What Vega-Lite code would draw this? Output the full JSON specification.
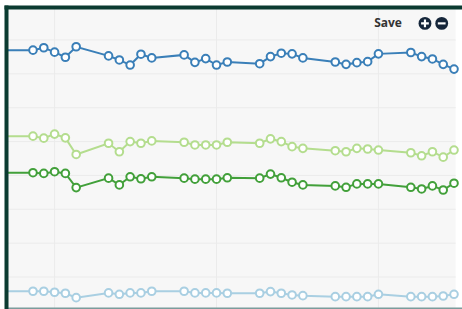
{
  "$schema": "https://vega.github.io/schema/vega-lite/v6.json",
  "width": 456,
  "height": 301,
  "autosize": {"type": "none"},
  "padding": {"left": 6, "top": 7, "right": 0, "bottom": 1},
  "background": "white",
  "config": {"view": {"stroke": null}},
  "datasets": {
    "series": [
      {"s":"S1","d":-3,"v":77.0},{"s":"S1","d":0,"v":77.0},{"s":"S1","d":1,"v":77.7},{"s":"S1","d":2,"v":76.4},{"s":"S1","d":3,"v":74.9},{"s":"S1","d":4,"v":78.0},
      {"s":"S1","d":7,"v":75.3},{"s":"S1","d":8,"v":74.1},{"s":"S1","d":9,"v":72.6},{"s":"S1","d":10,"v":75.8},{"s":"S1","d":11,"v":74.7},
      {"s":"S1","d":14,"v":75.6},{"s":"S1","d":15,"v":73.4},{"s":"S1","d":16,"v":74.5},{"s":"S1","d":17,"v":72.6},{"s":"S1","d":18,"v":73.5},
      {"s":"S1","d":21,"v":73.0},{"s":"S1","d":22,"v":75.1},{"s":"S1","d":23,"v":76.1},{"s":"S1","d":24,"v":75.9},{"s":"S1","d":25,"v":74.7},
      {"s":"S1","d":28,"v":73.5},{"s":"S1","d":29,"v":72.8},{"s":"S1","d":30,"v":73.3},{"s":"S1","d":31,"v":73.6},{"s":"S1","d":32,"v":75.9},
      {"s":"S1","d":35,"v":76.3},{"s":"S1","d":36,"v":75.1},{"s":"S1","d":37,"v":74.4},{"s":"S1","d":38,"v":72.8},{"s":"S1","d":39,"v":71.4},

      {"s":"S2","d":-3,"v":51.6},{"s":"S2","d":0,"v":51.6},{"s":"S2","d":1,"v":51.0},{"s":"S2","d":2,"v":52.2},{"s":"S2","d":3,"v":51.1},{"s":"S2","d":4,"v":46.2},
      {"s":"S2","d":7,"v":49.5},{"s":"S2","d":8,"v":47.0},{"s":"S2","d":9,"v":50.0},{"s":"S2","d":10,"v":49.5},{"s":"S2","d":11,"v":50.2},
      {"s":"S2","d":14,"v":49.8},{"s":"S2","d":15,"v":49.0},{"s":"S2","d":16,"v":49.0},{"s":"S2","d":17,"v":49.0},{"s":"S2","d":18,"v":49.8},
      {"s":"S2","d":21,"v":49.5},{"s":"S2","d":22,"v":50.8},{"s":"S2","d":23,"v":50.0},{"s":"S2","d":24,"v":48.5},{"s":"S2","d":25,"v":48.0},
      {"s":"S2","d":28,"v":47.3},{"s":"S2","d":29,"v":47.0},{"s":"S2","d":30,"v":48.0},{"s":"S2","d":31,"v":47.8},{"s":"S2","d":32,"v":47.5},
      {"s":"S2","d":35,"v":46.7},{"s":"S2","d":36,"v":45.8},{"s":"S2","d":37,"v":47.0},{"s":"S2","d":38,"v":45.4},{"s":"S2","d":39,"v":47.5},

      {"s":"S3","d":-3,"v":40.8},{"s":"S3","d":0,"v":40.8},{"s":"S3","d":1,"v":40.6},{"s":"S3","d":2,"v":41.1},{"s":"S3","d":3,"v":40.6},{"s":"S3","d":4,"v":36.4},
      {"s":"S3","d":7,"v":39.2},{"s":"S3","d":8,"v":37.2},{"s":"S3","d":9,"v":39.6},{"s":"S3","d":10,"v":39.0},{"s":"S3","d":11,"v":39.6},
      {"s":"S3","d":14,"v":39.2},{"s":"S3","d":15,"v":38.9},{"s":"S3","d":16,"v":38.9},{"s":"S3","d":17,"v":38.9},{"s":"S3","d":18,"v":39.3},
      {"s":"S3","d":21,"v":39.2},{"s":"S3","d":22,"v":40.4},{"s":"S3","d":23,"v":39.3},{"s":"S3","d":24,"v":38.0},{"s":"S3","d":25,"v":37.2},
      {"s":"S3","d":28,"v":36.9},{"s":"S3","d":29,"v":36.5},{"s":"S3","d":30,"v":37.5},{"s":"S3","d":31,"v":37.5},{"s":"S3","d":32,"v":37.5},
      {"s":"S3","d":35,"v":36.5},{"s":"S3","d":36,"v":36.0},{"s":"S3","d":37,"v":36.9},{"s":"S3","d":38,"v":35.7},{"s":"S3","d":39,"v":37.7},

      {"s":"S4","d":-3,"v":5.8},{"s":"S4","d":0,"v":5.8},{"s":"S4","d":1,"v":5.8},{"s":"S4","d":2,"v":5.5},{"s":"S4","d":3,"v":5.2},{"s":"S4","d":4,"v":3.9},
      {"s":"S4","d":7,"v":5.3},{"s":"S4","d":8,"v":4.9},{"s":"S4","d":9,"v":5.3},{"s":"S4","d":10,"v":5.3},{"s":"S4","d":11,"v":5.8},
      {"s":"S4","d":14,"v":5.8},{"s":"S4","d":15,"v":5.3},{"s":"S4","d":16,"v":5.3},{"s":"S4","d":17,"v":5.3},{"s":"S4","d":18,"v":5.2},
      {"s":"S4","d":21,"v":5.2},{"s":"S4","d":22,"v":5.7},{"s":"S4","d":23,"v":5.2},{"s":"S4","d":24,"v":4.7},{"s":"S4","d":25,"v":4.5},
      {"s":"S4","d":28,"v":4.2},{"s":"S4","d":29,"v":4.2},{"s":"S4","d":30,"v":4.2},{"s":"S4","d":31,"v":4.2},{"s":"S4","d":32,"v":4.9},
      {"s":"S4","d":35,"v":4.2},{"s":"S4","d":36,"v":4.2},{"s":"S4","d":37,"v":4.2},{"s":"S4","d":38,"v":4.4},{"s":"S4","d":39,"v":4.9}
    ],
    "vgrid": [{"d": 2}, {"d": 17}, {"d": 32}],
    "hgrid": [{"v": 10}, {"v": 20}, {"v": 30}, {"v": 40}, {"v": 50}, {"v": 60}, {"v": 70}, {"v": 80}],
    "one": [{"k": 1}]
  },
  "resolve": {"axis": {"x": "independent", "y": "independent"}},
  "layer": [
    {
      "data": {"name": "one"},
      "mark": {"type": "rect", "fill": "#f7f7f7"},
      "encoding": {
        "x": {"datum": -2.5, "type": "quantitative",
              "scale": {"domain": [-2.5, 39.74], "nice": false, "zero": false},
              "axis": {"orient": "top", "domainColor": "#0b3b31", "domainWidth": 4, "domainCap": "square", "ticks": false, "labels": false, "grid": false, "title": null, "zindex": 1}},
        "x2": {"datum": 39.15},
        "y": {"datum": 0.85, "type": "quantitative",
              "scale": {"domain": [0.85, 89.74], "nice": false, "zero": false},
              "axis": {"orient": "left", "domainColor": "#0b3b31", "domainWidth": 4, "domainCap": "square", "ticks": false, "labels": false, "grid": false, "title": null, "zindex": 1}},
        "y2": {"datum": 89.74}
      }
    },
    {
      "data": {"name": "vgrid"},
      "mark": {"type": "rule", "stroke": "#ebebeb", "strokeWidth": 1},
      "encoding": {
        "x": {"field": "d", "type": "quantitative", "axis": null}
      }
    },
    {
      "data": {"name": "hgrid"},
      "mark": {"type": "rule", "stroke": "#ebebeb", "strokeWidth": 1},
      "encoding": {
        "y": {"field": "v", "type": "quantitative", "axis": null},
        "x": {"datum": -2.5, "type": "quantitative", "axis": null},
        "x2": {"datum": 39.15}
      }
    },
    {
      "data": {"name": "series"},
      "mark": {"type": "line", "strokeWidth": 2, "clip": true},
      "encoding": {
        "x": {"field": "d", "type": "quantitative",
              "axis": {"orient": "bottom", "domainColor": "#7b9c9c", "domainWidth": 2, "ticks": false, "labels": false, "grid": false, "title": null, "zindex": 1}},
        "y": {"field": "v", "type": "quantitative", "axis": null},
        "color": {"field": "s", "type": "nominal", "legend": null,
                  "scale": {"domain": ["S1", "S2", "S3", "S4"], "range": ["#3a7fb8", "#b4dd8e", "#42a03a", "#a9cfe2"]}}
      }
    },
    {
      "data": {"name": "series"},
      "mark": {"type": "point", "filled": true, "fill": "white", "strokeWidth": 2, "size": 58, "opacity": 1, "clip": true},
      "encoding": {
        "x": {"field": "d", "type": "quantitative", "axis": null},
        "y": {"field": "v", "type": "quantitative", "axis": null},
        "stroke": {"field": "s", "type": "nominal", "legend": null,
                   "scale": {"domain": ["S1", "S2", "S3", "S4"], "range": ["#3a7fb8", "#b4dd8e", "#42a03a", "#a9cfe2"]}}
      }
    },
    {
      "data": {"name": "one"},
      "mark": {"type": "text", "text": "Save", "font": "Open Sans", "fontWeight": "bold", "fontSize": 12, "fill": "#333333", "align": "center", "baseline": "middle"},
      "encoding": {
        "x": {"datum": 32.89, "type": "quantitative", "axis": null},
        "y": {"datum": 84.9, "type": "quantitative", "axis": null}
      }
    },
    {
      "data": {"name": "one"},
      "mark": {"type": "point", "shape": "circle", "filled": true, "fill": "#15263a", "opacity": 1, "size": 165},
      "encoding": {
        "x": {"datum": 36.31, "type": "quantitative", "axis": null},
        "y": {"datum": 84.9, "type": "quantitative", "axis": null}
      }
    },
    {
      "data": {"name": "one"},
      "mark": {"type": "point", "shape": "circle", "filled": true, "fill": "#15263a", "opacity": 1, "size": 165},
      "encoding": {
        "x": {"datum": 37.86, "type": "quantitative", "axis": null},
        "y": {"datum": 84.9, "type": "quantitative", "axis": null}
      }
    },
    {
      "data": {"name": "one"},
      "mark": {"type": "point", "shape": "M-1,-0.28H-0.28V-1H0.28V-0.28H1V0.28H0.28V1H-0.28V0.28H-1Z", "filled": true, "fill": "white", "opacity": 1, "size": 60},
      "encoding": {
        "x": {"datum": 36.31, "type": "quantitative", "axis": null},
        "y": {"datum": 84.9, "type": "quantitative", "axis": null}
      }
    },
    {
      "data": {"name": "one"},
      "mark": {"type": "point", "shape": "M-1,-0.28H1V0.28H-1Z", "filled": true, "fill": "white", "opacity": 1, "size": 60},
      "encoding": {
        "x": {"datum": 37.86, "type": "quantitative", "axis": null},
        "y": {"datum": 84.9, "type": "quantitative", "axis": null}
      }
    }
  ]
}
